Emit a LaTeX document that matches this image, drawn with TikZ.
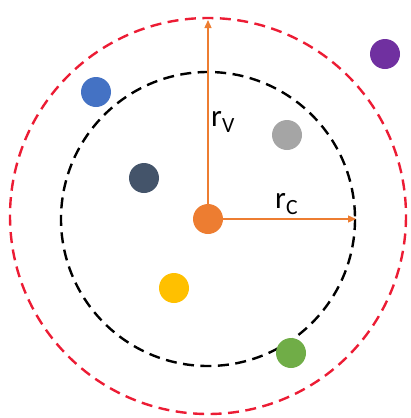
\documentclass[tikz,border=0pt]{standalone}
\usepackage{fontspec}
\setmainfont{Carlito}
\usetikzlibrary{arrows.meta}

\definecolor{ringred}{RGB}{236,28,52}
\definecolor{dotorange}{RGB}{237,125,49}
\definecolor{dotblue}{RGB}{68,114,196}
\definecolor{dotpurple}{RGB}{112,48,160}
\definecolor{dotgray}{RGB}{165,165,165}
\definecolor{dotnavy}{RGB}{68,84,106}
\definecolor{dotyellow}{RGB}{255,192,0}
\definecolor{dotgreen}{RGB}{112,173,71}

\begin{document}
\begin{tikzpicture}[x=1pt,y=-1pt,
  dot/.style={circle,inner sep=0pt,minimum size=30pt},
  ring/.style={line width=2.4pt,dash pattern=on 11pt off 6.5pt},
  radius arrow/.style={dotorange,line width=1.3pt,-{Triangle[length=8pt,width=7pt]}},
  lbl/.style={font=\fontsize{31}{33}\selectfont,inner sep=0pt}]
\useasboundingbox (0,0) rectangle (411,418);

%=== rings round the centre ===
\draw[ring,ringred] (208,216) circle (198);
\draw[ring,black] (208,219) circle (147);

%=== centre and the two radii ===
\node[dot,fill=dotorange] (centre) at (208,219) {};
\coordinate (vtip) at (208,20);
\coordinate (ctip) at (356,219);
\draw[radius arrow] (centre.center) -- (vtip);
\draw[radius arrow] (centre.east) -- (ctip);
\node[lbl,anchor=west] (rv) at (211,122) {r\textsubscript{V}};
\node[lbl,anchor=west] (rc) at (275,204) {r\textsubscript{C}};

%=== the other points ===
\node[dot,fill=dotblue] (blue) at (96,92) {};
\node[dot,fill=dotpurple] (purple) at (385,54) {};
\node[dot,fill=dotgray] (gray) at (287,135) {};
\node[dot,fill=dotnavy] (navy) at (144,178) {};
\node[dot,fill=dotyellow] (yellow) at (174,288) {};
\node[dot,fill=dotgreen] (green) at (291,353) {};

\end{tikzpicture}
\end{document}
